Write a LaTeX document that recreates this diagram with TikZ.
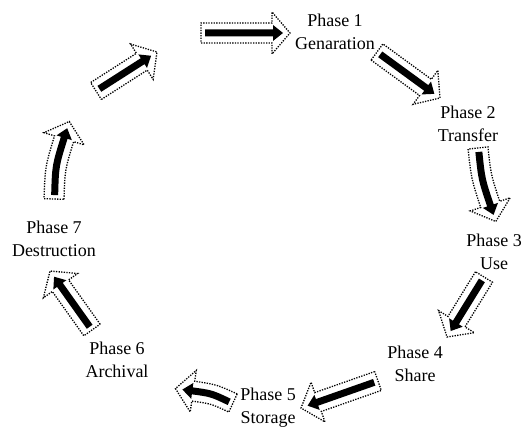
\documentclass[tikz,border=0pt]{standalone}
\usepackage{fontspec}
\setmainfont{Liberation Serif}
\tikzset{
  outl/.style={draw=black, line width=1.3pt, dash pattern=on 1.3pt off 1.3pt, fill=white, line join=miter},
  solidarr/.style={fill=black},
  phase/.style={align=center, inner sep=0pt, font=\fontsize{18}{23}\selectfont}
}
% #1 start, #2 tip, #3 bend, #4 half shaft, #5 half head, #6 head length, #7 style
\newcommand\arrowshape[7]{%
  \pgfmathsetmacro\arS{#2-#6-#1}%
  \pgfmathsetmacro\arG{atan2(2*#3,\arS)}%
  \pgfmathsetmacro\arB{atan2(-2*#3,\arS)}%
  \path[#7] ({#1-#4*sin(\arG)},{#4*cos(\arG)})
    .. controls ({#1+\arS/2},{#3+#4}) .. ({#1+\arS-#4*sin(\arB)},{#4*cos(\arB)})
    -- ({#1+\arS-#5*sin(\arB)},{#5*cos(\arB)})
    -- ({#1+\arS+#6*cos(\arB)},{#6*sin(\arB)})
    -- ({#1+\arS+#5*sin(\arB)},{-#5*cos(\arB)})
    -- ({#1+\arS+#4*sin(\arB)},{-#4*cos(\arB)})
    .. controls ({#1+\arS/2},{#3-#4}) .. ({#1+#4*sin(\arG)},{-#4*cos(\arG)})
    -- cycle;
}
\newcommand\phasearrow[5]{%
  \pgfmathsetmacro\arAng{atan2(#2-#4,#3-#1)}%
  \pgfmathsetmacro\arLen{veclen(#3-#1,#4-#2)}%
  \begin{scope}[shift={(#1,#2)},rotate=\arAng]
    \arrowshape{0}{\arLen}{#5}{10}{21}{18}{outl}
    \arrowshape{4}{\arLen-7}{#5}{3.5}{8}{10}{solidarr}
  \end{scope}%
}
\begin{document}
\begin{tikzpicture}[x=1pt,y=-1pt]
\useasboundingbox[fill=white] (0,0) rectangle (524,427);
% labels
\node[phase] (p1) at (335,32) {Phase 1\\Genaration};
\node[phase] (p2) at (468,124) {Phase 2\\Transfer};
\node[phase] (p3) at (494,252) {Phase 3\\Use};
\node[phase] (p4) at (415,364) {Phase 4\\Share};
\node[phase] (p5) at (268,408) {Phase 5\\Storage};
\node[phase] (p6) at (117,360) {Phase 6\\Archival};
\node[phase] (p7) at (54,239) {Phase 7\\Destruction};
% block arrows
\phasearrow{201}{33}{290}{33}{0}
\phasearrow{377}{52}{440}{98}{0}
\phasearrow{478}{148}{494}{222}{3}
\phasearrow{484}{277}{447}{337}{0}
\phasearrow{378}{381}{301}{408}{0}
\phasearrow{233}{403}{176}{386}{3}
\phasearrow{92}{330}{50}{271}{0}
\phasearrow{54}{199}{67}{121}{-4}
\phasearrow{96}{91}{157}{52}{0}
\end{tikzpicture}
\end{document}
